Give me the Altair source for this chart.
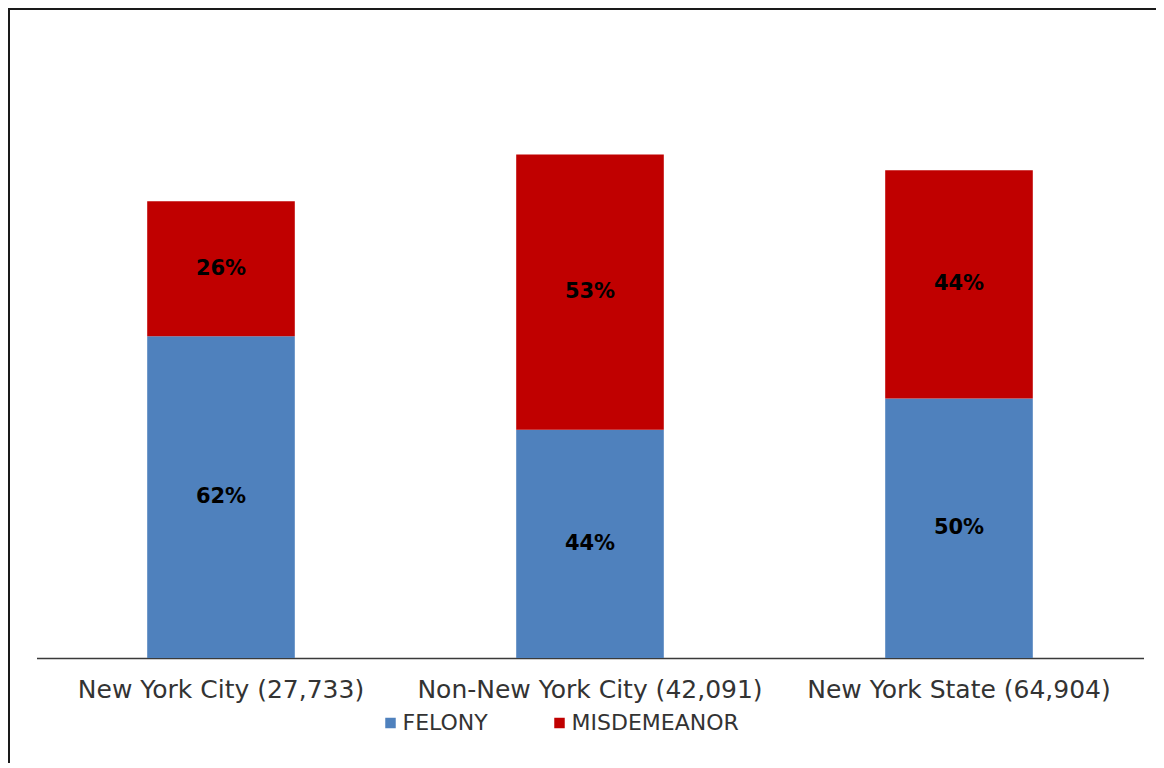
import altair as alt
import pandas as pd

regions = ["New York City (27,733)", "Non-New York City (42,091)", "New York State (64,904)"]
categories = ["FELONY", "MISDEMEANOR"]
felony = [62, 44, 50]
misdemeanor = [26, 53, 44]
colors = ["#4F81BD", "#C00000"]

rows = []
for i, r in enumerate(regions):
    rows.append({"region": r, "type": categories[0], "idx": 0, "value": felony[i]})
    rows.append({"region": r, "type": categories[1], "idx": 1, "value": misdemeanor[i]})
df = pd.DataFrame(rows)

FONT = "DejaVu Sans"

base = alt.Chart(df).transform_stack(
    stack="value", groupby=["region"], as_=["y0", "y1"], sort=[alt.SortField("idx", "ascending")]
).transform_calculate(
    mid="(datum.y0 + datum.y1) / 2",
    label="datum.value + '%'"
)

xenc = alt.X(
    "region:N",
    sort=regions,
    title=None,
    scale=alt.Scale(paddingInner=0.6, paddingOuter=0.3),
    axis=alt.Axis(
        labelAngle=0, ticks=False, domainColor="#3a3a3a", domainWidth=1.5,
        labelFont=FONT, labelFontSize=25, labelColor="#333333", labelPadding=19,
        labelLimit=500, labelOverlap=False, grid=False,
    ),
)
yscale = alt.Scale(domain=[0, 100])

bars = base.mark_bar().encode(
    x=xenc,
    y=alt.Y("y0:Q", scale=yscale, axis=None),
    y2="y1:Q",
    color=alt.Color(
        "type:N",
        scale=alt.Scale(domain=categories, range=colors),
        legend=alt.Legend(
            title=None, orient="none", legendX=343, legendY=573, direction="horizontal",
            symbolType="square", symbolSize=110, symbolStrokeWidth=0,
            labelFont=FONT, labelFontSize=22, labelColor="#333333", labelLimit=400,
            columnPadding=60, labelOffset=1, padding=0,
        ),
    ),
)

labels = base.mark_text(font=FONT, fontSize=21, fontWeight="bold", color="#000000", baseline="middle").encode(
    x=alt.X("region:N", sort=regions),
    y=alt.Y("mid:Q", scale=yscale),
    text="label:N",
)

frame = alt.Chart(pd.DataFrame({"k": [0]})).mark_rect(
    fill=None, stroke="#1a1a1a", strokeWidth=2
).encode(
    x=alt.value(-27.5), x2=alt.value(1200),
    y=alt.value(-130), y2=alt.value(700),
)

chart = alt.layer(frame, bars, labels).properties(
    width=1107, height=519,
    padding={"left": 28.5, "top": 131, "right": 12, "bottom": 105},
    autosize=alt.AutoSizeParams(type="none"),
).configure(background="white", view=alt.ViewConfig(stroke=None))

chart.save("out.html", embed_options={"renderer": "svg", "actions": False})
